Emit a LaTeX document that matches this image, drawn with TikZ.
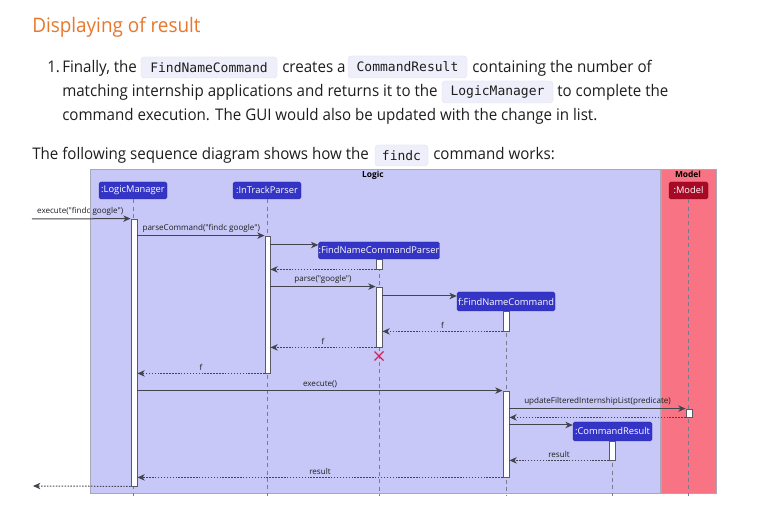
\documentclass[tikz,border=0pt]{standalone}
\usepackage{fontspec}
\setmainfont[FakeStretch=0.945]{Open Sans}
\newfontfamily\diagfont{Open Sans}
\setmonofont{DejaVu Sans Mono}
\usepackage{tikz}
\usetikzlibrary{arrows.meta,positioning,fit}
\definecolor{Ink}{HTML}{1E1E1E}
\definecolor{Heading}{HTML}{E8762B}
\definecolor{CodeBg}{HTML}{EEEFFA}
\definecolor{CodeLine}{HTML}{E0E2F2}
\definecolor{LogicBg}{HTML}{C8C8F8}
\definecolor{ModelBg}{HTML}{F87484}
\definecolor{FrameLine}{HTML}{A8A8B8}
\definecolor{PartBlue}{HTML}{3434C6}
\definecolor{PartRed}{HTML}{A80A26}
\definecolor{Life}{HTML}{7A7A90}
\definecolor{BarLine}{HTML}{5A5A66}
\definecolor{Msg}{HTML}{44444E}
\definecolor{Cross}{HTML}{D0245A}
\newcommand\px{0.75pt}
\tikzset{
  headtext/.style={anchor=base west, inner sep=0pt, font=\fontsize{15}{18}\selectfont, text=Heading},
  bodytext/.style={anchor=base west, inner sep=0pt, font=\fontsize{12}{14}\selectfont, text=Ink},
  codebox/.style={rounded corners=2.5pt, fill=CodeBg, draw=CodeLine, line width=0.3pt, inner sep=0pt, font=\ttfamily\fontsize{9.75}{11}\selectfont, text=Ink},
  partbox/.style={rounded corners=1.2pt, fill=PartBlue, draw=PartBlue!80!black, line width=0.3pt, text=white, inner sep=0pt, minimum height=17*\px, font=\diagfont\fontsize{7}{8}\selectfont},
  framebox/.style={draw=FrameLine, line width=0.6pt},
  frametitle/.style={inner sep=0pt, font=\diagfont\bfseries\fontsize{6.3}{7}\selectfont, text=black},
  actbar/.style={draw=BarLine, fill=white, line width=0.6pt, inner sep=0pt},
  lifeline/.style={draw=Life, line width=0.5pt, dash pattern=on 3pt off 2.5pt},
  callarrow/.style={-{Stealth[length=5.5pt,width=4.8pt,inset=1.6pt]}, draw=Msg, line width=0.75pt},
  retarrow/.style={callarrow, dash pattern=on 1.1pt off 1.1pt},
  msglabel/.style={font=\diagfont\fontsize{6.05}{7}\selectfont, inner sep=0pt, text=Ink},
}
\begin{document}
\begin{tikzpicture}[x=0.75pt,y=-0.75pt]
\path[use as bounding box, fill=white] (0,0) rectangle (761,516);

% page text
\node[headtext] (head) at (32,33) {Displaying of result};
\node[bodytext] (num) at (47,73) {1.};
\node[bodytext] (l1a) at (62,73) {Finally, the};
\node[codebox,minimum width=136*\px,minimum height=21*\px] (c1) at (209,67.5) {FindNameCommand};
\node[bodytext] (l1b) at (282,73) {creates a};
\node[codebox,minimum width=119*\px,minimum height=22*\px] (c2) at (407.5,67) {CommandResult};
\node[bodytext] (l1c) at (472,73) {containing the number of};
\node[bodytext] (l2a) at (62,97) {matching internship applications and returns it to the};
\node[codebox,minimum width=111*\px,minimum height=22*\px] (c3) at (497.5,92) {LogicManager};
\node[bodytext] (l2b) at (557,97) {to complete the};
\node[bodytext] (l3) at (62,121) {command execution. The GUI would also be updated with the change in list.};
\node[bodytext] (l4a) at (32,160) {The following sequence diagram shows how the};
\node[codebox,minimum width=53*\px,minimum height=21*\px] (c4) at (401.5,155.5) {findc};
\node[bodytext] (l4b) at (433,160) {command works:};

% frames
\fill[LogicBg] (90,169) rectangle (660,493);
\draw[framebox] (90,169) rectangle (660,493);
\fill[ModelBg] (661,169) rectangle (716,493);
\draw[framebox] (661,169) rectangle (716,493);
\node[frametitle] (logicT) at (373,175) {Logic};
\node[frametitle] (modelT) at (688,174.5) {Model};

% participants
\node[partbox,minimum width=68*\px] (lm) at (133,190.5) {:LogicManager};
\node[partbox,minimum width=68*\px] (itp) at (267,190.5) {:InTrackParser};
\node[partbox,minimum width=39*\px,fill=PartRed,draw=PartRed!80!black] (model) at (688.5,190.5) {:Model};
\node[partbox,minimum width=120*\px] (fncp) at (379,250.5) {:FindNameCommandParser};
\node[partbox,minimum width=98*\px,minimum height=19*\px] (fnc) at (506,301.5) {f:FindNameCommand};
\node[partbox,minimum width=79*\px,minimum height=19*\px] (cr) at (612.5,431.5) {:CommandResult};

% lifelines
\coordinate (bottom) at (0,496);
\foreach \p in {lm,itp,model,fncp,fnc,cr}
  \draw[lifeline] (\p.south) -- (\p.south |- bottom);

% activations
\node[actbar,fit={(131,219) (137,486)}] (lmA) {};
\node[actbar,fit={(265,236) (270,373)}] (itpA) {};
\node[actbar,fit={(376,259) (382,269)}] (fncpA1) {};
\node[actbar,fit={(376,287) (382,347)}] (fncpA2) {};
\node[actbar,fit={(503,311) (509,331)}] (fncA1) {};
\node[actbar,fit={(503,391) (509,477)}] (fncA2) {};
\node[actbar,fit={(686,409) (692,417)}] (mA) {};
\node[actbar,fit={(609,441) (615,460)}] (crA) {};

% messages
\coordinate (start) at (32,219);
\coordinate (finish) at (33,486);
\coordinate (r245) at (0,245);
\coordinate (r296) at (0,296);
\coordinate (r425) at (0,425);
\draw[callarrow] (start) -- (lmA.north west)
  node[msglabel,pos=0,anchor=south west,xshift=3.5pt,yshift=2.5pt] {execute("findc google")};
\draw[callarrow] (lmA.east |- itpA.north) -- (itpA.north west)
  node[msglabel,pos=0,anchor=south west,xshift=3.5pt,yshift=2pt] {parseCommand("findc google")};
\draw[callarrow] (itpA.east |- r245) -- (fncp.west |- r245);
\draw[retarrow] (fncpA1.south west) -- (itpA.east |- fncpA1.south);
\draw[callarrow] (itpA.east |- fncpA2.north) -- node[msglabel,above=2pt] {parse("google")} (fncpA2.north west);
\draw[callarrow] (fncpA2.east |- r296) -- (fnc.west |- r296);
\draw[retarrow] (fncA1.south west) -- node[msglabel,above=2pt] {f} (fncpA2.east |- fncA1.south);
\draw[retarrow] (fncpA2.south west) -- node[msglabel,above=2pt] {f} (itpA.east |- fncpA2.south);
\draw[Cross,line width=0.9pt] (374.5,351.5) -- (383.5,360.5) (383.5,351.5) -- (374.5,360.5);
\draw[retarrow] (itpA.south west) -- node[msglabel,above=2pt] {f} (lmA.east |- itpA.south);
\draw[callarrow] (lmA.east |- fncA2.north) -- node[msglabel,above=2pt] {execute()} (fncA2.north west);
\draw[callarrow] (fncA2.east |- mA.north) -- node[msglabel,above=2pt] {updateFilteredInternshipList(predicate)} (mA.north west);
\draw[retarrow] (mA.south west) -- (fncA2.east |- mA.south);
\draw[callarrow] (fncA2.east |- r425) -- (cr.west |- r425);
\draw[retarrow] (crA.south west) -- node[msglabel,above=2pt] {result} (fncA2.east |- crA.south);
\draw[retarrow] (fncA2.south west) -- node[msglabel,above=2pt] {result} (lmA.east |- fncA2.south);
\draw[retarrow] (lmA.south west) -- (finish);
\end{tikzpicture}
\end{document}
